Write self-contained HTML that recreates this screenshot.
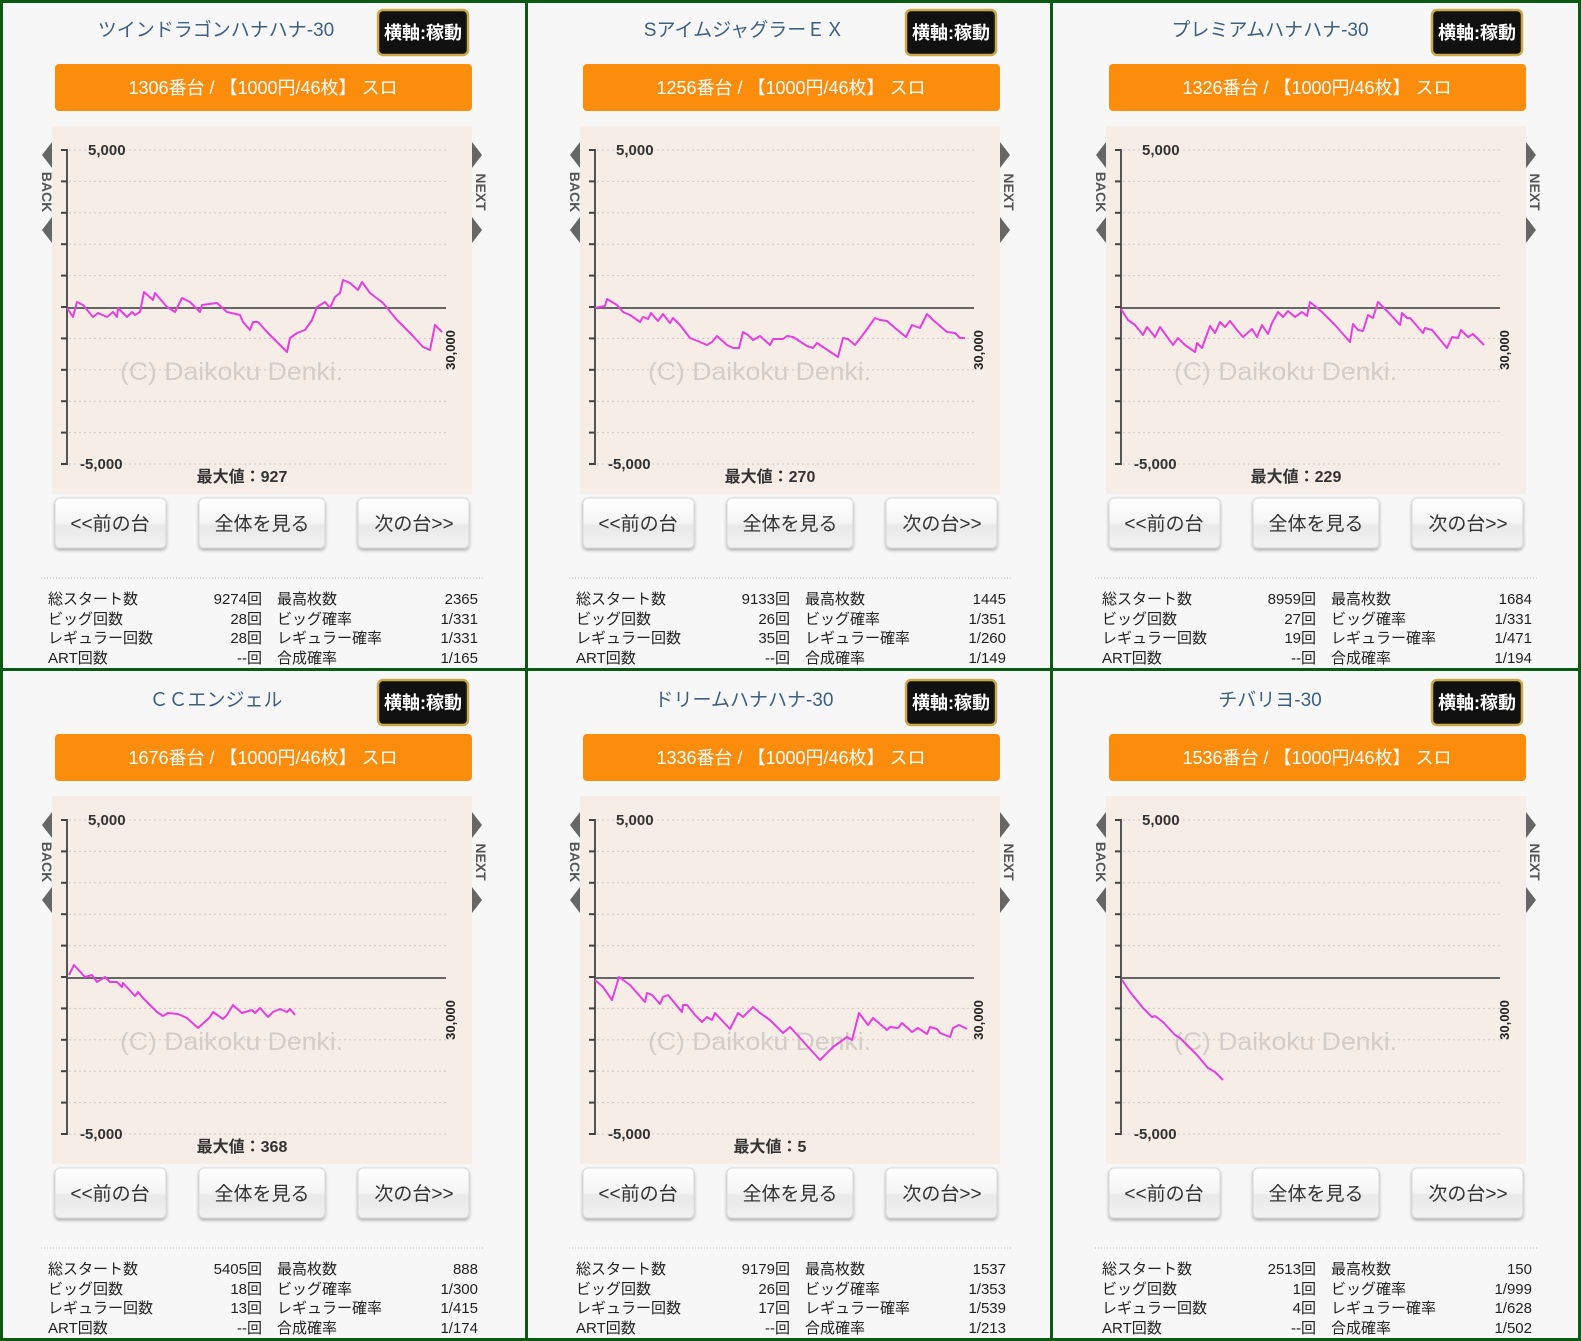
<!DOCTYPE html>
<html><head><meta charset="utf-8"><style>
html,body{margin:0;padding:0;background:#f7f7f7;}
svg{display:block;font-family:"Liberation Sans","Noto Sans CJK JP",sans-serif;}
</style></head><body>
<svg width="1581" height="1341" viewBox="0 0 1581 1341" xmlns="http://www.w3.org/2000/svg">
<defs>
<linearGradient id="btn" x1="0" y1="0" x2="0" y2="1"><stop offset="0" stop-color="#ffffff"/><stop offset="0.5" stop-color="#f4f4f4"/><stop offset="0.55" stop-color="#e9e9e9"/><stop offset="1" stop-color="#f2f2f2"/></linearGradient>
<filter id="sh" x="-10%" y="-10%" width="120%" height="130%"><feDropShadow dx="0" dy="2" stdDeviation="1.5" flood-color="#000" flood-opacity="0.3"/></filter>
<g id="panel">
<rect x="378" y="10" width="90" height="45" rx="5" fill="#111" stroke="#c9a94a" stroke-width="2.5"/>
<text x="423" y="39" font-size="18" font-weight="bold" fill="#fff" text-anchor="middle">横軸:稼動</text>
<rect x="55" y="64" width="417" height="47" rx="4" fill="#fb8c0c"/>
<rect x="52" y="126" width="420" height="368" fill="#f6ede6"/>
<g stroke="#cfc6c0" stroke-width="1" stroke-dasharray="2,3">
<line x1="69" x2="446" y1="150" y2="150"/><line x1="69" x2="446" y1="181.4" y2="181.4"/><line x1="69" x2="446" y1="212.8" y2="212.8"/><line x1="69" x2="446" y1="244.2" y2="244.2"/><line x1="69" x2="446" y1="275.6" y2="275.6"/><line x1="69" x2="446" y1="338.4" y2="338.4"/><line x1="69" x2="446" y1="369.8" y2="369.8"/><line x1="69" x2="446" y1="401.2" y2="401.2"/><line x1="69" x2="446" y1="432.6" y2="432.6"/><line x1="69" x2="446" y1="464" y2="464"/>
</g>
<line x1="67" x2="446" y1="308" y2="308" stroke="#666" stroke-width="2"/>
<line x1="67" x2="67" y1="149" y2="465" stroke="#555" stroke-width="2"/>
<g stroke="#444" stroke-width="2">
<line x1="61" x2="67" y1="150" y2="150"/><line x1="61" x2="67" y1="181.4" y2="181.4"/><line x1="61" x2="67" y1="212.8" y2="212.8"/><line x1="61" x2="67" y1="244.2" y2="244.2"/><line x1="61" x2="67" y1="275.6" y2="275.6"/><line x1="61" x2="67" y1="307" y2="307"/><line x1="61" x2="67" y1="338.4" y2="338.4"/><line x1="61" x2="67" y1="369.8" y2="369.8"/><line x1="61" x2="67" y1="401.2" y2="401.2"/><line x1="61" x2="67" y1="432.6" y2="432.6"/><line x1="61" x2="67" y1="464" y2="464"/>
</g>
<text x="88" y="155" font-size="15" font-weight="bold" fill="#333">5,000</text>
<text x="80" y="469" font-size="15" font-weight="bold" fill="#333">-5,000</text>
<text x="120" y="380" font-size="25" fill="#d3ccc7" textLength="223" lengthAdjust="spacingAndGlyphs">(C) Daikoku Denki.</text>
<text transform="translate(455,350) rotate(-90)" font-size="13" font-weight="bold" fill="#222" text-anchor="middle">30,000</text>
<polygon points="42,155 52,142 52,168" fill="#666"/><polygon points="42,230 52,217 52,243" fill="#666"/>
<text transform="translate(42,192) rotate(90)" font-size="14" font-weight="bold" fill="#555" text-anchor="middle">BACK</text>
<polygon points="482,155 472,142 472,168" fill="#666"/><polygon points="482,230 472,217 472,243" fill="#666"/>
<text transform="translate(476,192) rotate(90)" font-size="14" font-weight="bold" fill="#555" text-anchor="middle">NEXT</text>
<g filter="url(#sh)" stroke="#d8d8d8" stroke-width="1" fill="url(#btn)">
<rect x="55" y="498" width="111" height="50" rx="5"/><rect x="199" y="498" width="126" height="50" rx="5"/><rect x="358" y="498" width="111" height="50" rx="5"/>
</g>
<g font-size="19" fill="#333" text-anchor="middle">
<text x="110" y="530">&lt;&lt;前の台</text><text x="262" y="530">全体を見る</text><text x="414" y="530">次の台&gt;&gt;</text>
</g>
<line x1="41" x2="483" y1="578" y2="578" stroke="#bbb" stroke-width="1" stroke-dasharray="1,2"/>
<g font-size="15" fill="#222">
<text x="48" y="604">総スタート数</text><text x="48" y="624">ビッグ回数</text><text x="48" y="643">レギュラー回数</text><text x="48" y="663">ART回数</text>
<text x="277" y="604">最高枚数</text><text x="277" y="624">ビッグ確率</text><text x="277" y="643">レギュラー確率</text><text x="277" y="663">合成確率</text>
</g>
</g>
</defs>

<g transform="translate(0,0)"><use href="#panel"/>
<text x="216" y="36" font-size="19" fill="#3d5f80" text-anchor="middle">ツインドラゴンハナハナ-30</text>
<text x="263" y="94" font-size="18" fill="#fff" text-anchor="middle">1306番台 / 【1000円/46枚】 スロ</text>
<text x="242" y="482" font-size="16" font-weight="bold" fill="#333" text-anchor="middle">最大値：927</text>
<g font-size="15" fill="#222" text-anchor="end"><text x="262" y="604">9274回</text><text x="262" y="624">28回</text><text x="262" y="643">28回</text><text x="262" y="663">--回</text><text x="478" y="604">2365</text><text x="478" y="624">1/331</text><text x="478" y="643">1/331</text><text x="478" y="663">1/165</text></g>
</g>
<g transform="translate(528,0)"><use href="#panel"/>
<text x="216" y="36" font-size="19" fill="#3d5f80" text-anchor="middle">SアイムジャグラーＥＸ</text>
<text x="263" y="94" font-size="18" fill="#fff" text-anchor="middle">1256番台 / 【1000円/46枚】 スロ</text>
<text x="242" y="482" font-size="16" font-weight="bold" fill="#333" text-anchor="middle">最大値：270</text>
<g font-size="15" fill="#222" text-anchor="end"><text x="262" y="604">9133回</text><text x="262" y="624">26回</text><text x="262" y="643">35回</text><text x="262" y="663">--回</text><text x="478" y="604">1445</text><text x="478" y="624">1/351</text><text x="478" y="643">1/260</text><text x="478" y="663">1/149</text></g>
</g>
<g transform="translate(1054,0)"><use href="#panel"/>
<text x="216" y="36" font-size="19" fill="#3d5f80" text-anchor="middle">プレミアムハナハナ-30</text>
<text x="263" y="94" font-size="18" fill="#fff" text-anchor="middle">1326番台 / 【1000円/46枚】 スロ</text>
<text x="242" y="482" font-size="16" font-weight="bold" fill="#333" text-anchor="middle">最大値：229</text>
<g font-size="15" fill="#222" text-anchor="end"><text x="262" y="604">8959回</text><text x="262" y="624">27回</text><text x="262" y="643">19回</text><text x="262" y="663">--回</text><text x="478" y="604">1684</text><text x="478" y="624">1/331</text><text x="478" y="643">1/471</text><text x="478" y="663">1/194</text></g>
</g>
<g transform="translate(0,670)"><use href="#panel"/>
<text x="216" y="36" font-size="19" fill="#3d5f80" text-anchor="middle">ＣＣエンジェル</text>
<text x="263" y="94" font-size="18" fill="#fff" text-anchor="middle">1676番台 / 【1000円/46枚】 スロ</text>
<text x="242" y="482" font-size="16" font-weight="bold" fill="#333" text-anchor="middle">最大値：368</text>
<g font-size="15" fill="#222" text-anchor="end"><text x="262" y="604">5405回</text><text x="262" y="624">18回</text><text x="262" y="643">13回</text><text x="262" y="663">--回</text><text x="478" y="604">888</text><text x="478" y="624">1/300</text><text x="478" y="643">1/415</text><text x="478" y="663">1/174</text></g>
</g>
<g transform="translate(528,670)"><use href="#panel"/>
<text x="216" y="36" font-size="19" fill="#3d5f80" text-anchor="middle">ドリームハナハナ-30</text>
<text x="263" y="94" font-size="18" fill="#fff" text-anchor="middle">1336番台 / 【1000円/46枚】 スロ</text>
<text x="242" y="482" font-size="16" font-weight="bold" fill="#333" text-anchor="middle">最大値：5</text>
<g font-size="15" fill="#222" text-anchor="end"><text x="262" y="604">9179回</text><text x="262" y="624">26回</text><text x="262" y="643">17回</text><text x="262" y="663">--回</text><text x="478" y="604">1537</text><text x="478" y="624">1/353</text><text x="478" y="643">1/539</text><text x="478" y="663">1/213</text></g>
</g>
<g transform="translate(1054,670)"><use href="#panel"/>
<text x="216" y="36" font-size="19" fill="#3d5f80" text-anchor="middle">チバリヨ-30</text>
<text x="263" y="94" font-size="18" fill="#fff" text-anchor="middle">1536番台 / 【1000円/46枚】 スロ</text>
<g font-size="15" fill="#222" text-anchor="end"><text x="262" y="604">2513回</text><text x="262" y="624">1回</text><text x="262" y="643">4回</text><text x="262" y="663">--回</text><text x="478" y="604">150</text><text x="478" y="624">1/999</text><text x="478" y="643">1/628</text><text x="478" y="663">1/502</text></g>
</g>

<g fill="none" stroke="#e63fdf" stroke-width="2" stroke-linejoin="round">
<polyline points="67,308 73,317 77,302 83,305 93,317 98,313 107,317 113,312 117,317 118,308 127,317 132,312 135,315 140,312 144,292 153,300 155,293 167,307 175,312 182,298 190,302 200,312 202,305 217,303 227,312 240,315 243,322 250,330 253,322 258,322 267,332 287,352 290,338 297,333 305,330 312,320 317,307 325,302 330,308 335,297 340,293 343,280 350,283 358,290 362,282 370,293 383,303 397,320 412,335 423,347 430,350 435,325 442,332"/>
<polyline points="595,308 605,306 607,299 617,305 623,312 630,315 640,322 643,317 648,319 651,313 658,321 663,314 670,323 673,318 680,325 690,338 700,342 707,345 712,342 717,336 727,345 733,348 739,348 743,332 748,335 753,340 760,336 770,345 773,339 783,339 787,336 793,337 807,346 813,348 817,343 823,347 838,357 843,338 848,339 855,345 865,332 875,318 880,320 887,321 895,328 906,337 912,325 920,328 927,314 933,320 947,332 955,333 960,338 965,338"/>
<polyline points="1121,309 1128,320 1135,325 1143,335 1147,327 1155,337 1160,327 1173,345 1178,338 1185,345 1195,352 1197,343 1202,348 1210,326 1215,333 1220,322 1225,327 1230,321 1237,330 1243,337 1252,329 1257,337 1262,325 1268,334 1272,323 1278,312 1283,317 1288,311 1295,317 1302,312 1307,316 1310,302 1322,312 1335,325 1350,342 1353,324 1358,330 1363,331 1368,315 1373,318 1378,302 1388,312 1400,325 1402,313 1407,318 1410,318 1423,333 1425,328 1432,330 1447,348 1452,337 1458,338 1461,330 1468,337 1473,334 1484,345"/>
<polyline points="69,975 74,965 85,977 92,975 97,982 105,977 110,982 117,982 122,987 123,983 135,996 138,992 143,998 157,1012 163,1016 168,1013 178,1014 187,1018 198,1028 207,1020 210,1017 213,1012 223,1019 227,1015 233,1005 242,1013 252,1010 255,1013 260,1008 268,1017 273,1012 280,1009 287,1012 290,1009 295,1015"/>
<polyline points="595,980 603,987 612,1000 619,977 630,985 645,1002 647,993 652,995 660,1004 663,997 668,995 682,1012 683,1005 687,1005 695,1015 702,1022 707,1017 712,1020 715,1013 730,1029 738,1013 743,1017 753,1007 760,1013 770,1020 783,1033 790,1027 820,1060 833,1047 847,1037 852,1040 859,1013 868,1025 873,1018 887,1030 890,1027 898,1028 902,1023 912,1032 918,1028 927,1034 930,1027 937,1029 940,1033 950,1037 953,1028 959,1025 967,1029"/>
<polyline points="1122,980 1130,992 1143,1008 1152,1017 1155,1016 1163,1022 1175,1035 1180,1038 1197,1055 1208,1068 1215,1072 1223,1080"/>
</g>

<g fill="#0b5a14">
<rect x="0" y="0" width="1581" height="3"/><rect x="0" y="1338" width="1581" height="3"/>
<rect x="0" y="0" width="3" height="1341"/><rect x="1578" y="0" width="3" height="1341"/>
<rect x="525" y="0" width="3" height="1341"/><rect x="1050" y="0" width="3" height="1341"/>
<rect x="0" y="668" width="1581" height="3"/>
</g>
</svg>
</body></html>
